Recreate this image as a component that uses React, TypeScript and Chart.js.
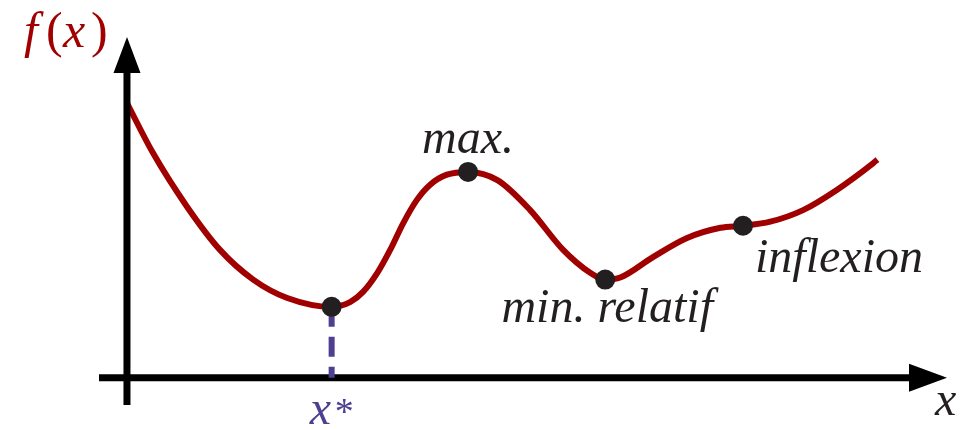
import React, { useEffect, useRef } from "react";
import { Chart, registerables } from "chart.js";

Chart.register(...registerables);

// Curve samples (x, f(x))
const curveX = [0, 0.38, 0.88, 1.36, 1.85, 2.35, 3.0, 3.27, 3.46, 3.67, 3.86, 4.05, 4.25, 4.44, 4.69, 5.0, 5.43, 5.91, 6.39, 6.79, 7.01, 7.23, 7.71, 8.21, 8.7, 9.03, 9.43, 9.91, 10.41, 10.94, 11.0];
const curveY = [4.03, 3.3, 2.51, 1.88, 1.44, 1.17, 1.04, 1.11, 1.26, 1.54, 1.88, 2.27, 2.61, 2.83, 2.98, 3.02, 2.9, 2.46, 1.88, 1.54, 1.44, 1.47, 1.77, 2.05, 2.2, 2.23, 2.29, 2.46, 2.76, 3.15, 3.2];

// Marked points: x*, max., min. relatif, inflexion
const markX = [3.0, 5.0, 7.01, 9.03];
const markY = [1.04, 3.02, 1.44, 2.23];
const markLabels = ["", "max.", "min. relatif", "inflexion"];

const yAxisLabel = ["f", "(", "x", ")"];
const xAxisLabel = "x";
const xStarLabel = "x";
const xStarSup = "*";

const X_RANGE = [-0.41, 12.02];
const Y_RANGE = [-0.4, 5.0];

const RED = "#a00000";
const PURPLE = "#4f3f91";
const INK = "#231f20";
const FAM = '"Liberation Serif", "Times New Roman", serif';

export default function App() {
  const ref = useRef<HTMLCanvasElement | null>(null);

  useEffect(() => {
    const canvas = ref.current;
    if (!canvas) return;

    const axesPlugin = {
      id: "axesAndLabels",
      afterDatasetDraw(chart: any, args: any) {
        if (args.index !== 0) return;
        const ctx = chart.ctx;
        const xs = chart.scales.x;
        const ys = chart.scales.y;
        const ca = chart.chartArea;
        const ox = xs.getPixelForValue(0);
        const oy = ys.getPixelForValue(0);
        ctx.save();
        ctx.fillStyle = "#000";
        ctx.strokeStyle = "#000";
        ctx.lineWidth = 7;
        ctx.lineCap = "butt";
        const vHead = 36;
        ctx.beginPath();
        ctx.moveTo(ox, ca.bottom);
        ctx.lineTo(ox, ca.top + vHead);
        ctx.stroke();
        ctx.beginPath();
        ctx.moveTo(ox, ca.top);
        ctx.lineTo(ox - 13.5, ca.top + vHead);
        ctx.lineTo(ox + 13.5, ca.top + vHead);
        ctx.closePath();
        ctx.fill();
        const hHead = 38;
        ctx.beginPath();
        ctx.moveTo(ca.left, oy);
        ctx.lineTo(ca.right - hHead, oy);
        ctx.stroke();
        ctx.beginPath();
        ctx.moveTo(ca.right, oy);
        ctx.lineTo(ca.right - hHead, oy - 14);
        ctx.lineTo(ca.right - hHead, oy + 14);
        ctx.closePath();
        ctx.fill();
        ctx.restore();
      },
      afterDraw(chart: any) {
        const ctx = chart.ctx;
        const xs = chart.scales.x;
        const ys = chart.scales.y;
        const ca = chart.chartArea;
        const ox = xs.getPixelForValue(0);
        const oy = ys.getPixelForValue(0);
        ctx.save();
        ctx.textBaseline = "alphabetic";
        ctx.textAlign = "left";
        // f(x) with math-like spacing
        ctx.fillStyle = RED;
        const fxOffsets = [-103, -81, -64, -36];
        yAxisLabel.forEach((ch, i) => {
          ctx.font = ch === "(" || ch === ")" ? `50px ${FAM}` : `italic 50px ${FAM}`;
          ctx.fillText(ch, ox + fxOffsets[i], ca.top + 10);
        });
        // axis label
        ctx.font = `italic 48px ${FAM}`;
        ctx.fillStyle = INK;
        ctx.fillText(xAxisLabel, ca.right - 12, oy + 37);
        // point labels
        const px = markX.map((v) => xs.getPixelForValue(v));
        const py = markY.map((v) => ys.getPixelForValue(v));
        ctx.textAlign = "center";
        ctx.fillText(markLabels[1], px[1], py[1] - 19);
        ctx.fillText(markLabels[2], px[2] + 2, py[2] + 42);
        ctx.textAlign = "left";
        ctx.fillText(markLabels[3], px[3] + 12, py[3] + 46);
        // x*
        ctx.fillStyle = PURPLE;
        ctx.font = `italic 48px ${FAM}`;
        ctx.fillText(xStarLabel, px[0] - 22, oy + 46);
        ctx.font = `38px ${FAM}`;
        ctx.fillText(xStarSup, px[0] + 3, oy + 46);
        ctx.restore();
      },
    };

    const chart = new Chart(canvas, {
      type: "line",
      data: {
        datasets: [
          {
            data: curveX.map((x, i) => ({ x, y: curveY[i] })),
            borderColor: RED,
            borderWidth: 6,
            borderCapStyle: "butt",
            cubicInterpolationMode: "monotone",
            pointRadius: 0,
            fill: false,
            order: 3,
          },
          {
            data: [
              { x: markX[0], y: markY[0] },
              { x: markX[0], y: 0 },
            ],
            borderColor: PURPLE,
            borderWidth: 6,
            borderDash: [20, 10],
            borderCapStyle: "butt",
            pointRadius: 0,
            fill: false,
            order: 2,
          },
          {
            data: markX.map((x, i) => ({ x, y: markY[i] })),
            showLine: false,
            pointRadius: 10,
            pointBackgroundColor: INK,
            pointBorderWidth: 0,
            borderColor: INK,
            order: 1,
          },
        ],
      },
      options: {
        animation: false,
        responsive: false,
        events: [],
        layout: { padding: { left: 99, right: 15, top: 37, bottom: 25 } },
        scales: {
          x: { type: "linear", min: X_RANGE[0], max: X_RANGE[1], display: false },
          y: { type: "linear", min: Y_RANGE[0], max: Y_RANGE[1], display: false },
        },
        plugins: { legend: { display: false }, tooltip: { enabled: false } },
      },
      plugins: [axesPlugin],
    } as any);

    return () => chart.destroy();
  }, []);

  return (
    <div style={{ position: "fixed", left: 0, top: 0, width: 962, height: 430, background: "#fff" }}>
      <canvas ref={ref} width={962} height={430} style={{ display: "block" }} />
    </div>
  );
}
